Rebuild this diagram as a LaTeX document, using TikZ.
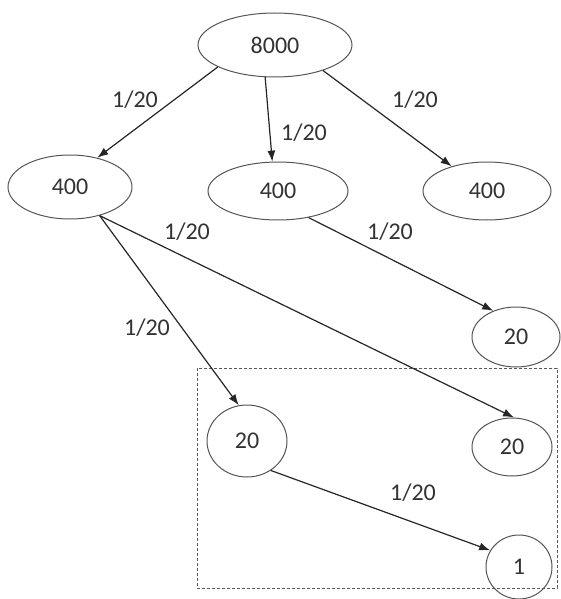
\documentclass[tikz,border=0pt]{standalone}
\usepackage{fontspec}
\setmainfont{Carlito}
\usetikzlibrary{shapes.geometric,arrows.meta}
\definecolor{txt}{HTML}{333333}
\definecolor{edge}{HTML}{555555}
\tikzset{
  el/.style={ellipse,draw=edge,line width=1pt,inner sep=0pt,text=txt,font=\fontsize{24}{28}\selectfont},
  lbl/.style={text=txt,font=\fontsize{24}{28}\selectfont,inner sep=0pt},
  arr/.style={draw=black!85,line width=1.2pt,-{Latex[length=11pt,width=8pt]}}
}
\begin{document}
\begin{tikzpicture}[x=1pt,y=-1pt]
\useasboundingbox (0,0) rectangle (561,599);
\fill[white] (0,0) rectangle (561,599);
% dashed box
\draw[black!65,dash pattern=on 3pt off 2pt,line width=1pt] (197,368) rectangle (557,588);
% nodes
\node[el,minimum width=154pt,minimum height=64pt] (a) at (275,45) {8000};
\node[el,minimum width=124pt,minimum height=64pt] (b1) at (70,187) {400};
\node[el,minimum width=140pt,minimum height=58pt] (b2) at (278,191) {400};
\node[el,minimum width=128pt,minimum height=58pt] (b3) at (487,191) {400};
\node[el,minimum width=88pt,minimum height=60pt] (c1) at (516,337) {20};
\node[el,minimum width=80pt,minimum height=72pt] (c2) at (247,441) {20};
\node[el,minimum width=80pt,minimum height=58pt] (c3) at (512,447) {20};
\node[el,minimum width=66pt,minimum height=64pt] (d) at (519,567) {1};
% edges
\draw[arr] (a.-159) -- (b1.47);
\draw[arr] (a.-107) -- (b2.101);
\draw[arr] (a.-28) -- (b3.145);
\draw[arr] (b1.-44) -- (c3.86);
\draw[arr] (b1.-44) -- (c2.103);
\draw[arr] (b2.-41) -- (c1.131);
\draw[arr] (c2.-51) -- (d.150);
% labels
\node[lbl] (l1) at (135,100) {1/20};
\node[lbl] (l2) at (304,133) {1/20};
\node[lbl] (l3) at (415,100) {1/20};
\node[lbl] (l4) at (187,232) {1/20};
\node[lbl] (l5) at (390,232) {1/20};
\node[lbl] (l6) at (147,328) {1/20};
\node[lbl] (l7) at (413,493) {1/20};
\end{tikzpicture}
\end{document}
